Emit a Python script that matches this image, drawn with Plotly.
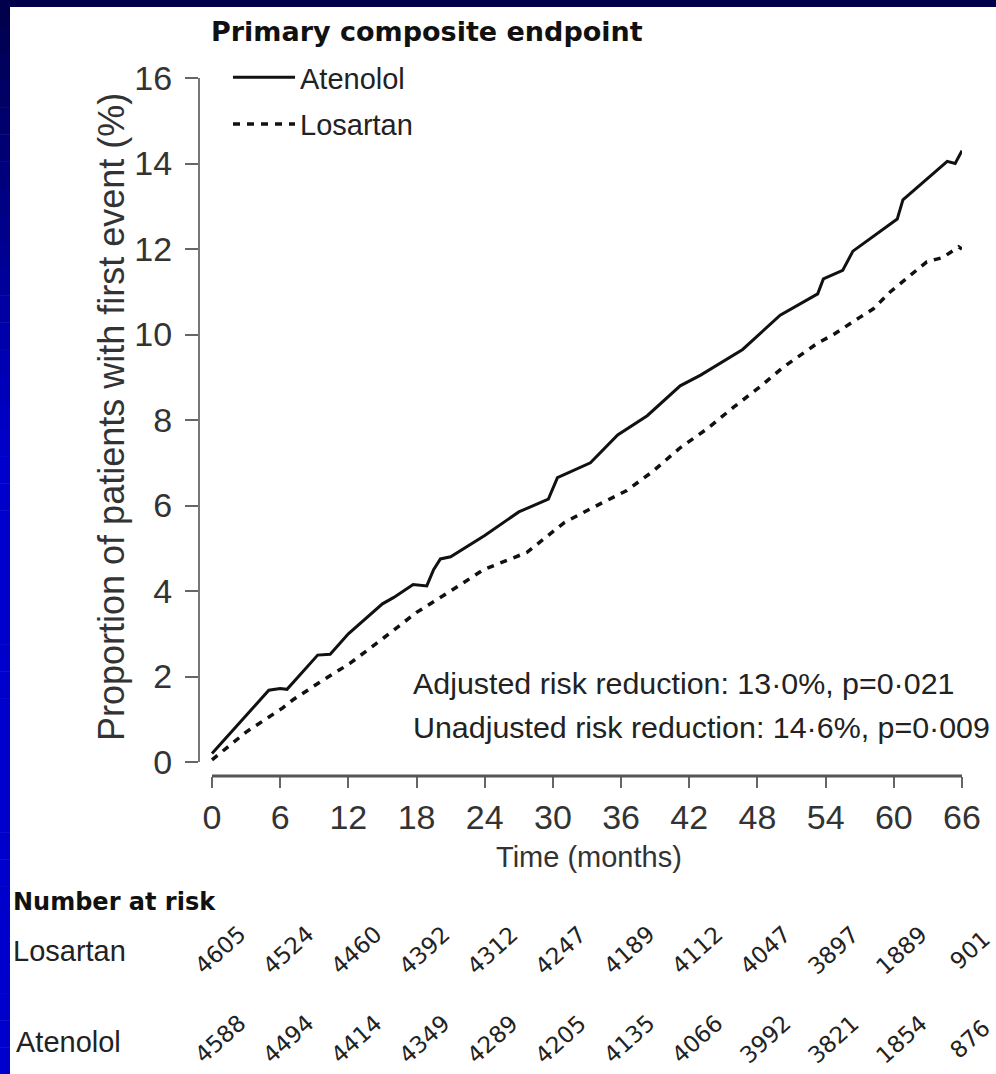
import plotly.graph_objects as go

# ---------------- data ----------------
atenolol_months = [0, 2.5, 5.0, 6.0, 6.6, 9.3, 10.4, 12.0, 15.0, 16.0, 17.7, 18.9, 19.5, 20.1, 21.0,
                   24.0, 27.0, 29.6, 30.4, 33.3, 35.7, 38.3, 41.2, 43.0, 46.7, 50.0, 53.3, 53.8,
                   55.5, 56.4, 60.3, 60.8, 64.7, 65.4, 66.0]
atenolol_pct = [0.2, 0.95, 1.68, 1.72, 1.7, 2.5, 2.52, 3.0, 3.7, 3.85, 4.15, 4.12, 4.5, 4.75, 4.8,
                5.3, 5.85, 6.15, 6.65, 7.0, 7.65, 8.1, 8.8, 9.05, 9.65, 10.45, 10.95, 11.3,
                11.5, 11.95, 12.7, 13.15, 14.05, 14.0, 14.3]

losartan_months = [0, 3.0, 6.2, 7.1, 9.8, 12.1, 15.1, 18.0, 21.0, 23.9, 27.7, 29.5, 31.0, 33.5,
                   36.5, 38.8, 41.2, 43.6, 45.9, 48.2, 50.3, 53.3, 54.7, 57.0, 58.2, 59.7, 61.7,
                   62.9, 64.3, 65.7, 66.0]
losartan_pct = [0.05, 0.7, 1.26, 1.45, 1.92, 2.3, 2.9, 3.5, 4.0, 4.5, 4.9, 5.27, 5.6, 5.95,
                6.35, 6.8, 7.35, 7.8, 8.3, 8.77, 9.24, 9.8, 10.0, 10.4, 10.6, 11.0, 11.45,
                11.7, 11.8, 12.05, 12.0]

x_ticks = [0, 6, 12, 18, 24, 30, 36, 42, 48, 54, 60, 66]
y_ticks = [0, 2, 4, 6, 8, 10, 12, 14, 16]

risk_months = [0, 6, 12, 18, 24, 30, 36, 42, 48, 54, 60, 66]
risk_losartan = [4605, 4524, 4460, 4392, 4312, 4247, 4189, 4112, 4047, 3897, 1889, 901]
risk_atenolol = [4588, 4494, 4414, 4349, 4289, 4205, 4135, 4066, 3992, 3821, 1854, 876]

title_text = "Primary composite endpoint"
y_title = "Proportion of patients with first event (%)"
x_title = "Time (months)"
stats_lines = ["Adjusted risk reduction: 13·0%, p=0·021",
               "Unadjusted risk reduction: 14·6%, p=0·009"]

# ---------------- layout geometry ----------------
W, H = 996, 1074
ML, MR, MT, MB = 199, 34, 78, 298
PW, PH = W - ML - MR, H - MT - MB
X_MIN, X_MAX = -1.144, 66
Y_MIN, Y_MAX = -0.3275, 16


def px2x(px):
    return (px - ML) / PW


def px2y(py):
    return (H - MB - py) / PH


SANS = "Liberation Sans, Arial, sans-serif"
WIDE = "DejaVu Sans, Verdana, sans-serif"

fig = go.Figure()
fig.add_trace(go.Scatter(x=atenolol_months, y=atenolol_pct, mode="lines", name="Atenolol",
                         line=dict(color="#111111", width=3), legendgroup="a"))
fig.add_trace(go.Scatter(x=losartan_months, y=losartan_pct, mode="lines", name="Losartan",
                         line=dict(color="#111111", width=3.5, dash="7px,7px"), legendgroup="l"))

shapes = []
# axis lines (offset style)
shapes.append(dict(type="line", xref="paper", yref="y", x0=0, x1=0, y0=0, y1=16,
                   line=dict(color="#777777", width=2)))
shapes.append(dict(type="line", xref="x", yref="paper", x0=0, x1=66, y0=0, y1=0,
                   line=dict(color="#555555", width=3)))

# slide frame: dark top band and graded left band
shapes.append(dict(type="rect", xref="paper", yref="paper", x0=px2x(0), x1=px2x(W),
                   y0=px2y(7), y1=px2y(0), fillcolor="#00004a", line=dict(width=0), layer="above"))
N = 40
for i in range(N):
    y0 = i * H / N
    y1 = (i + 1) * H / N
    t = min(1.0, ((y0 + y1) / 2) / 450.0)
    b = int(74 + (204 - 74) * t)
    shapes.append(dict(type="rect", xref="paper", yref="paper", x0=px2x(0), x1=px2x(10),
                       y0=px2y(y1 + 0.5), y1=px2y(y0), fillcolor=f"rgb(0,0,{b})",
                       line=dict(width=0), layer="above"))

annotations = []
annotations.append(dict(text=f"<b>{title_text}</b>", xref="paper", yref="paper",
                        x=px2x(209), y=px2y(31), xanchor="left", yanchor="middle",
                        showarrow=False, font=dict(family=WIDE, size=27, color="#111111")))
annotations.append(dict(text=y_title, xref="paper", yref="paper", x=px2x(111), y=px2y(417),
                        xanchor="center", yanchor="middle", textangle=-90, showarrow=False,
                        font=dict(family=SANS, size=36, color="#333333")))
annotations.append(dict(text=x_title, xref="paper", yref="paper", x=px2x(589), y=px2y(857),
                        xanchor="center", yanchor="middle", showarrow=False,
                        font=dict(family=SANS, size=29, color="#333333")))
for k, line in enumerate(stats_lines):
    annotations.append(dict(text=line, xref="paper", yref="paper", x=px2x(411),
                            y=px2y(683 + 44 * k), xanchor="left", yanchor="middle",
                            showarrow=False, font=dict(family=SANS, size=30.4, color="#222222")))

# number at risk table
annotations.append(dict(text="<b>Number at risk</b>", xref="paper", yref="paper", x=px2x(11),
                        y=px2y(902), xanchor="left", yanchor="middle", showarrow=False,
                        font=dict(family=WIDE, size=24, color="#111111")))
annotations.append(dict(text="Losartan", xref="paper", yref="paper", x=px2x(11), y=px2y(951),
                        xanchor="left", yanchor="middle", showarrow=False,
                        font=dict(family=SANS, size=29, color="#222222")))
annotations.append(dict(text="Atenolol", xref="paper", yref="paper", x=px2x(14), y=px2y(1042),
                        xanchor="left", yanchor="middle", showarrow=False,
                        font=dict(family=SANS, size=29, color="#222222")))
for m, n in zip(risk_months, risk_losartan):
    annotations.append(dict(text=str(n), xref="x", yref="paper", x=m, y=px2y(950), xshift=8,
                            xanchor="center", yanchor="middle", textangle=-42, showarrow=False,
                            font=dict(family=WIDE, size=23, color="#222222")))
for m, n in zip(risk_months, risk_atenolol):
    annotations.append(dict(text=str(n), xref="x", yref="paper", x=m, y=px2y(1039), xshift=8,
                            xanchor="center", yanchor="middle", textangle=-42, showarrow=False,
                            font=dict(family=WIDE, size=23, color="#222222")))

fig.update_layout(
    width=W, height=H,
    margin=dict(l=ML, r=MR, t=MT, b=MB, pad=0),
    paper_bgcolor="white", plot_bgcolor="white",
    shapes=shapes, annotations=annotations,
    showlegend=True,
    legend=dict(x=px2x(228), y=px2y(52), xanchor="left", yanchor="top",
                bgcolor="rgba(0,0,0,0)", font=dict(family=SANS, size=29, color="#222222"),
                tracegroupgap=6, itemwidth=62),
    xaxis=dict(range=[X_MIN, X_MAX], tickvals=x_ticks, ticktext=[str(v) for v in x_ticks],
               showgrid=False, zeroline=False, showline=False, ticks="outside", ticklen=11,
               tickwidth=2, tickcolor="#666666",
               tickfont=dict(family=SANS, size=34, color="#333333")),
    yaxis=dict(range=[Y_MIN, Y_MAX], tickvals=y_ticks, ticktext=[str(v) for v in y_ticks],
               showgrid=False, zeroline=False, showline=False, ticks="outside", ticklen=13,
               tickwidth=2, tickcolor="#666666", ticklabelstandoff=6,
               tickfont=dict(family=SANS, size=34, color="#333333")),
)

fig.write_html(
    "out.html",
    config={"displayModeBar": False},
    post_script="document.body.style.margin='0';document.body.style.overflow='hidden';",
)
